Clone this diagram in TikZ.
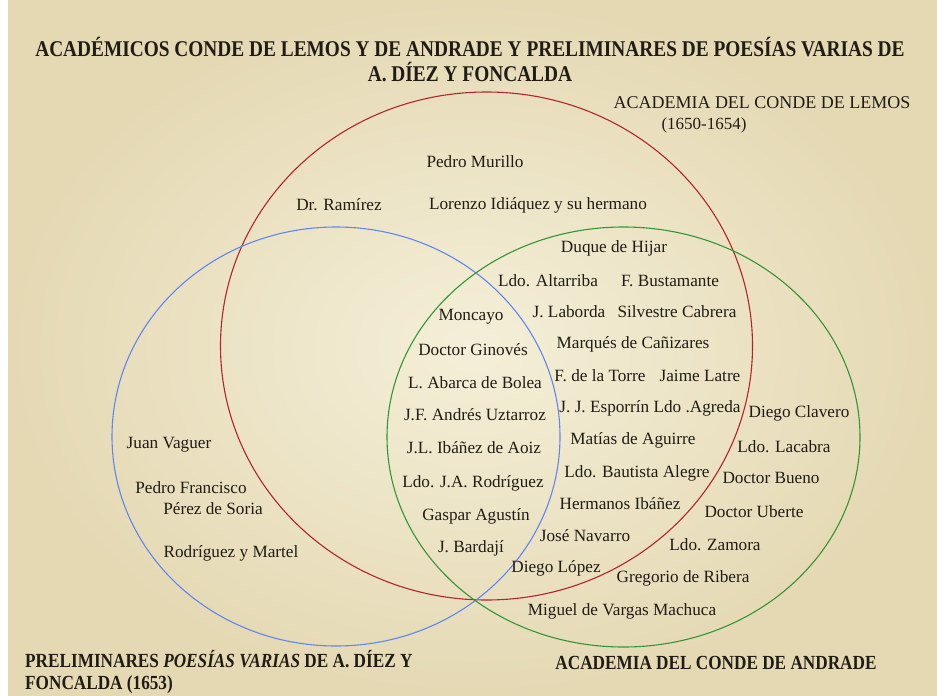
\documentclass[tikz,border=0pt]{standalone}
\usepackage{fontspec}
\setmainfont{Liberation Serif}
\newfontfamily\narrowfont[FakeStretch=0.86]{Liberation Serif}
\definecolor{PaperLight}{RGB}{244,239,216}
\definecolor{PaperDark}{RGB}{229,217,180}
\definecolor{LemosRed}{RGB}{178,36,46}
\definecolor{PoesiaBlue}{RGB}{95,135,240}
\definecolor{AndradeGreen}{RGB}{50,150,55}
\definecolor{Ink}{RGB}{32,28,22}

\begin{document}
\begin{tikzpicture}[x=1pt,y=-1pt,
    member/.style={font=\fontsize{17.2}{20}\selectfont, text=Ink, inner sep=0pt},
    heading/.style={font=\narrowfont\bfseries\fontsize{22.5}{25}\selectfont, text=Ink, align=center, inner sep=0pt},
    setlabel/.style={font=\narrowfont\bfseries\fontsize{20}{22}\selectfont, text=Ink, inner sep=0pt},
    ring/.style={line width=1.1pt}
  ]
    % paper
    \fill[white] (0,0) rectangle (937,696);
    \shade[inner color=PaperLight, outer color=PaperDark] (8,0) rectangle (937,696);
    \useasboundingbox (0,0) rectangle (937,696);

    % the three sets
    \draw[ring, draw=LemosRed] (486.5,346) ellipse [x radius=266, y radius=254];
    \draw[ring, draw=PoesiaBlue] (336,436.5) ellipse [x radius=224, y radius=209.5];
    \draw[ring, draw=AndradeGreen] (623.5,437) ellipse [x radius=236.5, y radius=210];

    \node[heading] (title) at (470,60) {ACADÉMICOS CONDE DE LEMOS Y DE ANDRADE Y PRELIMINARES DE POESÍAS VARIAS DE\\A. DÍEZ Y FONCALDA};

    \node[member, font=\fontsize{18}{20}\selectfont] (lemos) at (762,103) {ACADEMIA DEL CONDE DE LEMOS};
    \node[member, font=\fontsize{17}{20}\selectfont] (lemosyears) at (704,125) {(1650-1654)};
    \node[setlabel] (andrade) at (716,663) {ACADEMIA DEL CONDE DE ANDRADE};
    \node[setlabel, anchor=west, align=left] (poesias) at (25,672) {PRELIMINARES \textit{POESÍAS VARIAS} DE A. DÍEZ Y\\FONCALDA (1653)};

    % only Lemos
    \node[member] (murillo) at (475,162) {Pedro Murillo};
    \node[member] (ramirez) at (339,205) {Dr. Ramírez};
    \node[member] (idiaquez) at (538,205) {Lorenzo Idiáquez y su hermano};

    % Lemos and Andrade
    \node[member] (hijar) at (614,248) {Duque de Hijar};
    \node[member] (altarriba) at (548,281) {Ldo. Altarriba};
    \node[member] (bustamante) at (670,281) {F. Bustamante};
    \node[member] (laborda) at (569,312) {J. Laborda};
    \node[member] (cabrera) at (677,312) {Silvestre Cabrera};
    \node[member] (canizares) at (633,344) {Marqués de Cañizares};
    \node[member] (torre) at (600,376) {F. de la Torre};
    \node[member] (latre) at (700,376) {Jaime Latre};
    \node[member] (esporrin) at (650,408) {J. J. Esporrín Ldo .Agreda};
    \node[member] (aguirre) at (633,440) {Matías de Aguirre};
    \node[member] (alegre) at (637,473) {Ldo. Bautista Alegre};
    \node[member] (ibanezhnos) at (620,504) {Hermanos Ibáñez};
    \node[member] (navarro) at (585,536) {José Navarro};
    \node[member] (lopez) at (556,568) {Diego López};

    % all three
    \node[member] (moncayo) at (471,317) {Moncayo};
    \node[member] (ginoves) at (473,350) {Doctor Ginovés};
    \node[member] (abarca) at (475,383) {L. Abarca de Bolea};
    \node[member] (uztarroz) at (475,415) {J.F. Andrés Uztarroz};
    \node[member] (aoiz) at (474,448) {J.L. Ibáñez de Aoiz};
    \node[member] (rodriguez) at (473,483) {Ldo. J.A. Rodríguez};
    \node[member] (agustin) at (476,516) {Gaspar Agustín};
    \node[member] (bardaji) at (471,548) {J. Bardají};

    % only Andrade
    \node[member] (clavero) at (799,413) {Diego Clavero};
    \node[member] (lacabra) at (784,447) {Ldo. Lacabra};
    \node[member] (bueno) at (771,478) {Doctor Bueno};
    \node[member] (uberte) at (754,512) {Doctor Uberte};
    \node[member] (zamora) at (715,545) {Ldo. Zamora};
    \node[member] (ribera) at (683,578) {Gregorio de Ribera};
    \node[member] (machuca) at (622,611) {Miguel de Vargas Machuca};

    % only Poesias varias
    \node[member] (vaguer) at (169,445) {Juan Vaguer};
    \node[member] (pedrofran) at (191,488) {Pedro Francisco};
    \node[member] (perezsoria) at (213,509) {Pérez de Soria};
    \node[member] (martel) at (231,553) {Rodríguez y Martel};
  \end{tikzpicture}
\end{document}
